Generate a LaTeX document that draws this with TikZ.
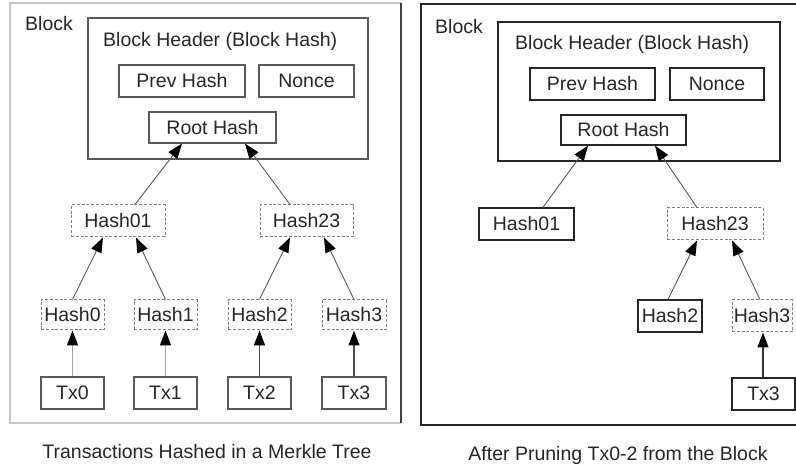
\documentclass[tikz,border=0pt]{standalone}
\usepackage{fontspec}
\setmainfont{Liberation Sans}
\usetikzlibrary{arrows.meta}
\definecolor{txt}{gray}{0.15}
\definecolor{lineL}{gray}{0.35}
\definecolor{lineR}{gray}{0.15}
\definecolor{dashc}{gray}{0.5}
\tikzset{
  lbl/.style={font=\fontsize{19.5}{23}\selectfont, text=txt, inner sep=0pt},
  boxL/.style={draw=lineL, line width=1.2pt, inner sep=0pt, font=\fontsize{19.5}{23}\selectfont, text=txt},
  boxR/.style={draw=lineR, line width=1.3pt, inner sep=0pt, font=\fontsize{19.5}{23}\selectfont, text=txt},
  dbox/.style={draw=dashc, line width=1pt, dash pattern=on 3pt off 1.8pt, inner sep=0pt, font=\fontsize{19.5}{23}\selectfont, text=txt},
  tip/.tip={Triangle[length=15pt,width=11pt,color=black,fill=black]},
  arr/.style={draw=gray!70!black, line width=0.9pt, -tip},
  varr/.style={draw=gray!60!black, line width=1.3pt, -tip},
}
\begin{document}
\begin{tikzpicture}[x=1pt,y=-1pt]
\useasboundingbox (0,0) rectangle (796,465);
\fill[white] (0,0) rectangle (796,465);

% ---------- left panel ----------
\draw[gray!45, line width=1.3pt] (401,3) -- (10,3) -- (10,423) -- (401,423);
\draw[black!75, line width=1.3pt] (401,3) -- (401,423);
\node[lbl, anchor=west] (blockL) at (25,24) {Block};
\node[boxL, minimum width=280pt, minimum height=141pt] (hdrL) at (228,88.5) {};
\node[lbl, anchor=west] (hdrtL) at (103,41) {Block Header (Block Hash)};
\node[boxL, minimum width=126pt, minimum height=32pt] (prevL) at (182,81) {Prev Hash};
\node[boxL, minimum width=95pt, minimum height=32pt] (nonceL) at (306.5,81) {Nonce};
\node[boxL, minimum width=127pt, minimum height=31pt] (rootL) at (212.5,127.5) {Root Hash};
\node[dbox, minimum width=94pt, minimum height=32pt] (h01L) at (118,221) {Hash01};
\node[dbox, minimum width=93pt, minimum height=32pt] (h23L) at (306.5,221) {Hash23};
\node[dbox, minimum width=63pt, minimum height=30pt] (h0L) at (72.5,315) {Hash0};
\node[dbox, minimum width=63pt, minimum height=30pt] (h1L) at (165.5,315) {Hash1};
\node[dbox, minimum width=63pt, minimum height=30pt] (h2L) at (259.5,315) {Hash2};
\node[dbox, minimum width=64pt, minimum height=30pt] (h3L) at (354,315) {Hash3};
\node[boxL, minimum width=63pt, minimum height=32pt] (tx0L) at (72.5,393) {Tx0};
\node[boxL, minimum width=63pt, minimum height=32pt] (tx1L) at (165.5,393) {Tx1};
\node[boxL, minimum width=63pt, minimum height=32pt] (tx2L) at (259.5,393) {Tx2};
\node[boxL, minimum width=64pt, minimum height=32pt] (tx3L) at (354,393) {Tx3};
\node[lbl] (capL) at (207,452) {Transactions Hashed in a Merkle Tree};

\draw[arr] ([xshift=17pt]h01L.north) -- ([xshift=-30.5pt]rootL.south);
\draw[arr] ([xshift=-16.5pt]h23L.north) -- ([xshift=32.5pt]rootL.south);
\draw[arr] (h0L.north) -- ([xshift=-15pt]h01L.south);
\draw[arr] (h1L.north) -- ([xshift=18pt]h01L.south);
\draw[arr] (h2L.north) -- ([xshift=-16.5pt]h23L.south);
\draw[arr] (h3L.north) -- ([xshift=17.5pt]h23L.south);
\draw[varr, draw=gray!70] (tx0L) -- (h0L);
\draw[varr, draw=gray!70] (tx1L) -- (h1L);
\draw[varr] (tx2L) -- (h2L);
\draw[varr] (tx3L) -- (h3L);

% ---------- right panel ----------
\draw[black!85, line width=1.4pt] (810,4) -- (421,4) -- (421,425) -- (810,425);
\node[lbl, anchor=west] (blockR) at (435,27) {Block};
\node[boxR, minimum width=282pt, minimum height=139pt] (hdrR) at (639,91.5) {};
\node[lbl, anchor=west] (hdrtR) at (515,44) {Block Header (Block Hash)};
\node[boxR, minimum width=125pt, minimum height=32pt] (prevR) at (592.5,84) {Prev Hash};
\node[boxR, minimum width=94pt, minimum height=32pt] (nonceR) at (717,84) {Nonce};
\node[boxR, minimum width=125pt, minimum height=30pt] (rootR) at (623.5,130) {Root Hash};
\node[boxR, minimum width=95pt, minimum height=32pt] (h01R) at (526.5,224) {Hash01};
\node[dbox, minimum width=96pt, minimum height=32pt] (h23R) at (715,224) {Hash23};
\node[boxR, minimum width=64pt, minimum height=32pt] (h2R) at (670,316) {Hash2};
\node[dbox, minimum width=60pt, minimum height=32pt] (h3R) at (762,316) {Hash3};
\node[boxR, minimum width=63pt, minimum height=32pt] (tx3R) at (763.5,394) {Tx3};
\node[lbl] (capR) at (618,455) {After Pruning Tx0-2 from the Block};

\draw[arr] ([xshift=16.5pt]h01R.north) -- ([xshift=-35.5pt]rootR.south);
\draw[arr] ([xshift=-18pt]h23R.north) -- ([xshift=31.5pt]rootR.south);
\draw[arr] ([xshift=-2pt]h2R.north) -- ([xshift=-18pt]h23R.south);
\draw[arr] ([xshift=-2pt]h3R.north) -- ([xshift=17pt]h23R.south);
\draw[varr, draw=black!80] ([xshift=-0.5pt]tx3R.north) -- ([xshift=1pt]h3R.south);
\end{tikzpicture}
\end{document}
